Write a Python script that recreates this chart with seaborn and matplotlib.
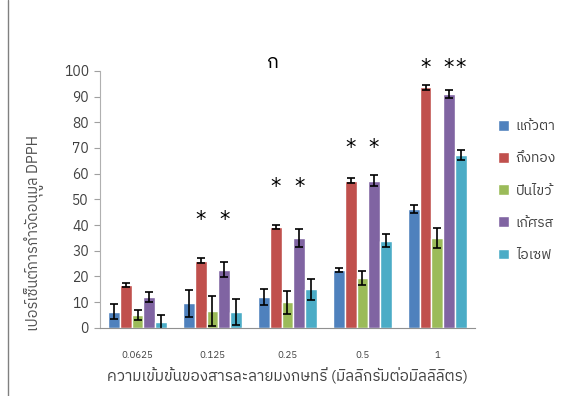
import matplotlib
matplotlib.use("Agg")
import matplotlib.pyplot as plt
import matplotlib.font_manager as fm
from matplotlib.ft2font import FT2Font
from matplotlib.lines import Line2D
import seaborn as sns
import pandas as pd

# data
concentrations = ["0.0625", "0.125", "0.25", "0.5", "1"]
varieties = ["แก้วตา", "ถึงทอง", "ปีนไขว้", "เก้ศรส", "ไอเซฟ"]
colors = ["#4F81BD", "#C0504D", "#9BBB59", "#8064A2", "#4BACC6"]

means = {
    "แก้วตา": [6.3, 9.6, 12.1, 22.6, 46.4],
    "ถึงทอง": [16.6, 26.2, 39.4, 57.3, 93.6],
    "ปีนไขว้": [5.0, 6.6, 10.0, 19.5, 34.9],
    "เก้ศรส": [12.0, 22.6, 34.9, 57.3, 90.9],
    "ไอเซฟ": [2.2, 6.1, 15.0, 34.0, 67.3],
}
errors = {
    "แก้วตา": [3.0, 5.3, 3.0, 0.8, 1.6],
    "ถึงทอง": [0.8, 0.8, 0.8, 1.0, 1.0],
    "ปีนไขว้": [2.0, 6.0, 4.5, 2.8, 3.9],
    "เก้ศรส": [1.8, 2.9, 3.5, 2.2, 1.5],
    "ไอเซฟ": [3.0, 5.0, 4.0, 2.5, 2.0],
}
# significance marks: (concentration index, variety index, height)
star_group = [1, 1, 2, 2, 3, 3, 4, 4, 4]
star_variety = [1, 3, 1, 3, 1, 3, 1, 3, 4]
star_height = [42, 42, 55, 55, 70, 70, 101, 101, 101]


def thai_font():
    # pick an installed proportional font that has Thai glyphs
    found = []
    for path in fm.findSystemFonts():
        try:
            if 0x0E01 not in FT2Font(path).get_charmap():
                continue
            prop = fm.FontProperties(fname=path)
            name = prop.get_name()
        except Exception:
            continue
        score = 0
        low = (name + path).lower()
        if "mono" in low or "typewriter" in low or "courier" in low:
            score += 10
        if "bold" in low or "oblique" in low or "italic" in low:
            score += 3
        if "sans" not in low and "loma" not in low and "garuda" not in low:
            score += 1
        found.append((score, name))
    found.sort()
    return found[0][1] if found else None


sns.set_style("white")
tf = thai_font()
plt.rcParams["font.family"] = ([tf] if tf else []) + ["DejaVu Sans"]

df = pd.DataFrame(
    [(c, v, means[v][i]) for v in varieties for i, c in enumerate(concentrations)],
    columns=["conc", "variety", "value"],
)

fig = plt.figure(figsize=(5.72, 3.96), dpi=100)
ax = fig.add_axes([0.175, 0.172, 0.655, 0.649])

sns.barplot(data=df, x="conc", y="value", hue="variety", order=concentrations,
            hue_order=varieties, palette=colors, width=0.78, errorbar=None,
            saturation=1, ax=ax, legend=True)

# error bars at the bars' own positions
for k, v in enumerate(varieties):
    bars = ax.containers[k]
    xs = [b.get_x() + b.get_width() / 2 for b in bars]
    hs = [b.get_height() for b in bars]
    ax.errorbar(xs, hs, yerr=errors[v], fmt="none", ecolor="black",
                elinewidth=1.2, capsize=3, capthick=1.2)

for g, vi, h in zip(star_group, star_variety, star_height):
    b = ax.containers[vi][g]
    ax.text(b.get_x() + b.get_width() / 2, h, "*", ha="center", va="center",
            fontsize=15, color="black", family="DejaVu Sans")

ax.set_ylim(0, 100)
ax.set_yticks(range(0, 101, 10))
ax.set_xlim(-0.5, 4.5)
ax.tick_params(axis="y", left=True, length=4, color="#a0a0a0", labelsize=10,
               labelcolor="#404040", pad=4)
ax.tick_params(axis="x", bottom=False, labelsize=7, labelcolor="#404040", pad=13)
for s in ["top", "right"]:
    ax.spines[s].set_visible(False)
ax.spines["left"].set_color("#b0b0b0")
ax.spines["bottom"].set_color("#909090")

ax.set_xlabel("ความเข้มข้นของสารละลายมงกษทรี่ (มิลลิกรัมต่อมิลลิลิตร)",
              fontsize=11, color="#404040", labelpad=6)
ax.set_ylabel("เปอร์เซ็นต์การกำจัดอนุมูล DPPH", fontsize=10.5, color="#505050")
ax.yaxis.set_label_coords(-0.15, 0.37)
ax.set_title("ก", fontsize=14, color="black", pad=2, x=0.46)

handles, labels = ax.get_legend_handles_labels()
ax.get_legend().remove()
fig.legend(handles, labels, loc="upper left", bbox_to_anchor=(0.848, 0.73),
           frameon=False, fontsize=10, labelspacing=1.3, handlelength=0.8,
           handleheight=0.8, handletextpad=0.5, labelcolor="#404040")

# left edge of the chart frame
fig.add_artist(Line2D([0.014, 0.014], [0, 1], transform=fig.transFigure,
                      color="#808080", linewidth=1))

fig.savefig("out.png", dpi=100)
